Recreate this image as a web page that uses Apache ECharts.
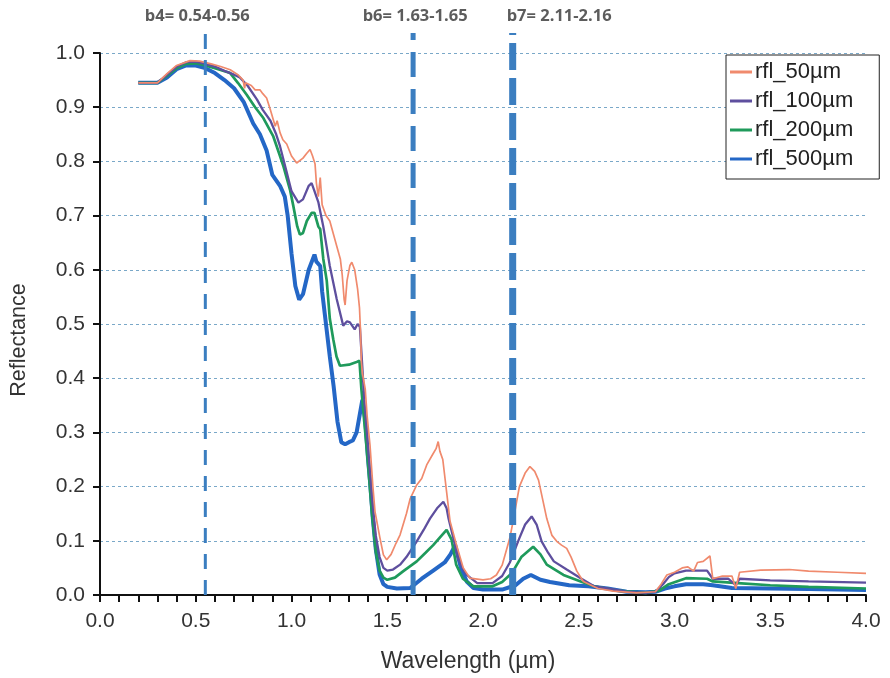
<!DOCTYPE html>
<html>
<head>
<meta charset="utf-8">
<script src="https://cdn.jsdelivr.net/npm/echarts@6/dist/echarts.min.js"></script>
<style>
html,body{margin:0;padding:0;background:#fff;}
#chart{width:890px;height:678px;}
</style>
</head>
<body>
<div id="chart"></div>
<script>
// ---- data ----
const seriesNames = ['rfl_50µm', 'rfl_100µm', 'rfl_200µm', 'rfl_500µm'];

const wl50 = [0.2,0.3,0.35,0.4,0.47,0.52,0.58,0.63,0.68,0.72,0.747,0.755,0.76,0.79,0.81,0.835,0.85,0.87,0.89,0.905,0.915,0.925,0.94,0.955,0.975,1.0,1.027,1.06,1.08,1.097,1.11,1.123,1.13,1.14,1.15,1.16,1.18,1.2,1.236,1.255,1.265,1.275,1.28,1.29,1.305,1.315,1.33,1.345,1.355,1.36,1.365,1.37,1.375,1.385,1.395,1.41,1.425,1.436,1.462,1.48,1.497,1.52,1.545,1.567,1.6,1.62,1.654,1.68,1.706,1.74,1.755,1.766,1.775,1.79,1.81,1.828,1.862,1.897,1.932,2.0,2.04,2.07,2.1,2.14,2.157,2.19,2.22,2.245,2.27,2.29,2.333,2.36,2.385,2.41,2.437,2.46,2.49,2.524,2.6,2.68,2.8,2.9,2.93,2.96,3.0,3.04,3.07,3.1,3.12,3.15,3.185,3.2,3.25,3.3,3.32,3.34,3.45,3.6,3.7,3.85,4.0];
const r50 = [0.945,0.945,0.962,0.977,0.986,0.985,0.98,0.975,0.969,0.96,0.95,0.935,0.945,0.94,0.932,0.932,0.925,0.917,0.895,0.877,0.865,0.875,0.853,0.84,0.832,0.81,0.797,0.806,0.815,0.822,0.81,0.795,0.76,0.735,0.77,0.72,0.70,0.69,0.644,0.62,0.59,0.545,0.535,0.58,0.608,0.614,0.6,0.565,0.53,0.49,0.43,0.41,0.40,0.38,0.33,0.276,0.2,0.154,0.105,0.074,0.065,0.075,0.095,0.111,0.15,0.178,0.203,0.215,0.24,0.261,0.27,0.283,0.265,0.25,0.19,0.136,0.092,0.05,0.031,0.028,0.03,0.037,0.055,0.105,0.136,0.2,0.225,0.237,0.228,0.212,0.141,0.11,0.099,0.092,0.086,0.07,0.044,0.025,0.012,0.007,0.004,0.006,0.02,0.037,0.042,0.05,0.052,0.044,0.06,0.062,0.072,0.03,0.035,0.035,0.012,0.042,0.046,0.047,0.044,0.042,0.04];

const wl100 = [0.2,0.3,0.35,0.4,0.45,0.5,0.55,0.6,0.65,0.7,0.73,0.77,0.82,0.85,0.89,0.92,0.94,0.975,1.0,1.036,1.06,1.09,1.105,1.12,1.14,1.166,1.2,1.236,1.27,1.29,1.305,1.33,1.345,1.357,1.37,1.38,1.4,1.42,1.44,1.46,1.48,1.5,1.53,1.567,1.6,1.654,1.69,1.723,1.76,1.793,1.81,1.82,1.845,1.87,1.9,1.915,1.97,2.05,2.1,2.14,2.19,2.22,2.254,2.28,2.306,2.34,2.37,2.437,2.51,2.58,2.65,2.75,2.85,2.9,2.94,2.97,3.0,3.06,3.17,3.2,3.28,3.32,3.34,3.5,3.7,4.0];
const r100 = [0.945,0.945,0.96,0.975,0.983,0.984,0.98,0.975,0.967,0.96,0.955,0.94,0.914,0.895,0.875,0.85,0.828,0.78,0.745,0.724,0.73,0.755,0.76,0.745,0.725,0.68,0.607,0.546,0.497,0.505,0.503,0.49,0.5,0.495,0.42,0.36,0.27,0.18,0.11,0.07,0.05,0.045,0.047,0.056,0.07,0.099,0.12,0.141,0.16,0.172,0.16,0.141,0.105,0.068,0.045,0.037,0.022,0.022,0.035,0.06,0.105,0.13,0.145,0.13,0.099,0.078,0.062,0.047,0.031,0.016,0.012,0.006,0.004,0.006,0.02,0.033,0.04,0.045,0.045,0.03,0.03,0.018,0.03,0.027,0.025,0.023];

const wl200 = [0.2,0.3,0.35,0.4,0.45,0.5,0.55,0.6,0.68,0.72,0.766,0.81,0.853,0.905,0.94,0.958,0.992,1.01,1.03,1.044,1.06,1.08,1.105,1.12,1.14,1.15,1.166,1.184,1.2,1.218,1.235,1.253,1.3,1.34,1.355,1.365,1.38,1.4,1.42,1.44,1.46,1.48,1.5,1.54,1.584,1.654,1.7,1.74,1.78,1.81,1.836,1.86,1.895,1.95,2.05,2.1,2.15,2.2,2.262,2.3,2.333,2.42,2.51,2.58,2.7,2.85,2.92,2.97,3.06,3.17,3.2,3.33,3.5,3.7,4.0];
const r200 = [0.945,0.945,0.958,0.972,0.98,0.981,0.977,0.972,0.963,0.945,0.923,0.9,0.88,0.846,0.81,0.791,0.748,0.717,0.68,0.665,0.668,0.69,0.705,0.705,0.68,0.675,0.62,0.58,0.51,0.472,0.44,0.423,0.425,0.43,0.432,0.38,0.32,0.24,0.15,0.08,0.045,0.032,0.028,0.032,0.044,0.062,0.078,0.092,0.108,0.12,0.102,0.056,0.03,0.016,0.016,0.024,0.04,0.07,0.089,0.075,0.056,0.037,0.025,0.016,0.008,0.004,0.008,0.02,0.031,0.03,0.025,0.022,0.018,0.015,0.012];

const wl500 = [0.2,0.3,0.35,0.4,0.45,0.5,0.55,0.6,0.65,0.7,0.75,0.8,0.835,0.87,0.9,0.94,0.965,0.98,1.0,1.02,1.04,1.06,1.09,1.12,1.13,1.15,1.16,1.18,1.2,1.22,1.24,1.26,1.28,1.3,1.32,1.34,1.355,1.37,1.385,1.4,1.41,1.425,1.44,1.46,1.48,1.5,1.55,1.62,1.68,1.74,1.8,1.83,1.855,1.87,1.885,1.915,1.95,2.0,2.1,2.17,2.21,2.25,2.3,2.35,2.45,2.55,2.65,2.75,2.85,2.9,2.95,3.0,3.06,3.15,3.2,3.3,3.5,3.7,4.0];
const r500 = [0.945,0.945,0.955,0.97,0.977,0.977,0.972,0.963,0.95,0.935,0.91,0.87,0.85,0.82,0.775,0.755,0.735,0.70,0.63,0.57,0.545,0.555,0.60,0.628,0.615,0.607,0.56,0.50,0.44,0.385,0.32,0.282,0.278,0.282,0.285,0.30,0.33,0.36,0.325,0.25,0.21,0.14,0.085,0.038,0.02,0.015,0.012,0.013,0.03,0.045,0.06,0.075,0.092,0.07,0.05,0.025,0.013,0.01,0.01,0.018,0.03,0.037,0.028,0.024,0.018,0.016,0.012,0.006,0.005,0.006,0.012,0.016,0.02,0.02,0.018,0.013,0.012,0.011,0.009];

const bandX = [0.55, 1.635, 2.155];
const bandLabels = ['b4= 0.54-0.56', 'b6= 1.63-1.65', 'b7= 2.11-2.16'];
const bandTop = 1.037;

const yTicks = [0,0.1,0.2,0.3,0.4,0.5,0.6,0.7,0.8,0.9,1.0];

// ---- chart ----
const zip = (xs, ys) => xs.map((x, i) => [x, ys[i]]);
const colors = ['#f08a6d', '#5e4f9e', '#1f9a5b', '#2467c6'];
const widths = [1.7, 2.3, 2.7, 4];
const zs = [5, 4, 3, 2];
const dataSets = [zip(wl50, r50), zip(wl100, r100), zip(wl200, r200), zip(wl500, r500)];

const bandWidths = [3, 5, 7];
const bandDash = [[15, 11], [25, 12], [27, 8]];
const bandAlign = ['center', 'center', 'left'];
const bandOffset = [[-8, 0], [2, 0], [-6, 0]];

const series = seriesNames.map((n, i) => ({
  name: n, type: 'line', data: dataSets[i], symbol: 'none', z: zs[i],
  lineStyle: { color: colors[i], width: widths[i] }, itemStyle: { color: colors[i] },
  smooth: false, animation: false
}));

bandX.forEach((bx, i) => {
  series.push({
    type: 'line', name: 'band' + i, symbol: 'none', clip: false, z: 6, animation: false,
    silent: true,
    lineStyle: { color: '#3b7ec0', width: bandWidths[i], type: bandDash[i] },
    data: [[bx, 0], [bx, bandTop]]
  });
});

series.push({
  type: 'scatter', name: 'bandLabels', clip: false, silent: true, z: 7, animation: false,
  symbolSize: 1, itemStyle: { color: 'rgba(0,0,0,0)' },
  data: bandX.map((bx, i) => ({
    value: [bx, bandTop],
    label: {
      show: true, position: 'top', distance: 8, formatter: bandLabels[i],
      align: bandAlign[i], offset: bandOffset[i],
      fontFamily: 'Open Sans', fontWeight: 'bold', fontSize: 16.5, color: '#333'
    }
  }))
});

const chart = echarts.init(document.getElementById('chart'), null, { renderer: 'canvas' });
chart.setOption({
  backgroundColor: '#ffffff',
  animation: false,
  grid: { left: 100, right: 24, top: 53, bottom: 81, containLabel: false },
  legend: {
    data: seriesNames, orient: 'vertical', left: 726, top: 55,
    backgroundColor: '#fff', borderColor: '#222', borderWidth: 1,
    icon: 'rect', itemWidth: 22, itemHeight: 3,
    padding: [6, 26, 9, 4], itemGap: 7,
    textStyle: { fontFamily: 'Liberation Sans', fontSize: 22, color: '#222', padding: [0, 0, 0, -2] }
  },
  xAxis: {
    type: 'value', min: 0, max: 4, interval: 0.5,
    name: 'Wavelength (µm)', nameLocation: 'middle', nameGap: 55,
    nameTextStyle: { fontFamily: 'Liberation Sans', fontSize: 23, color: '#333', padding: [0, 30, 0, 0] },
    axisLine: { show: true, onZero: false, lineStyle: { color: '#111', width: 2 } },
    axisTick: { show: true, inside: false, length: 7, lineStyle: { color: '#111', width: 2 } },
    minorTick: { show: true, splitNumber: 5, length: 7, lineStyle: { color: '#111', width: 2 } },
    splitLine: { show: false },
    axisLabel: { margin: 16, fontFamily: 'Liberation Sans', fontSize: 21, color: '#333',
      formatter: v => v.toFixed(1) }
  },
  yAxis: {
    type: 'value', min: 0, max: 1, interval: 0.1,
    name: 'Reflectance', nameLocation: 'middle', nameGap: 70,
    nameTextStyle: { fontFamily: 'Liberation Sans', fontSize: 21.5, color: '#333', padding: [0, 32, 0, 0] },
    axisLine: { show: true, lineStyle: { color: '#111', width: 2 } },
    axisTick: { show: true, inside: false, length: 7, lineStyle: { color: '#111', width: 2 } },
    splitLine: { show: true, lineStyle: { color: '#7aa8c8', width: 1, type: [3, 3] } },
    axisLabel: { margin: 15, fontFamily: 'Liberation Sans', fontSize: 21, color: '#333',
      formatter: v => yTicks.includes(Math.round(v * 10) / 10) ? v.toFixed(1) : '' }
  },
  series: series
});
</script>
</body>
</html>
